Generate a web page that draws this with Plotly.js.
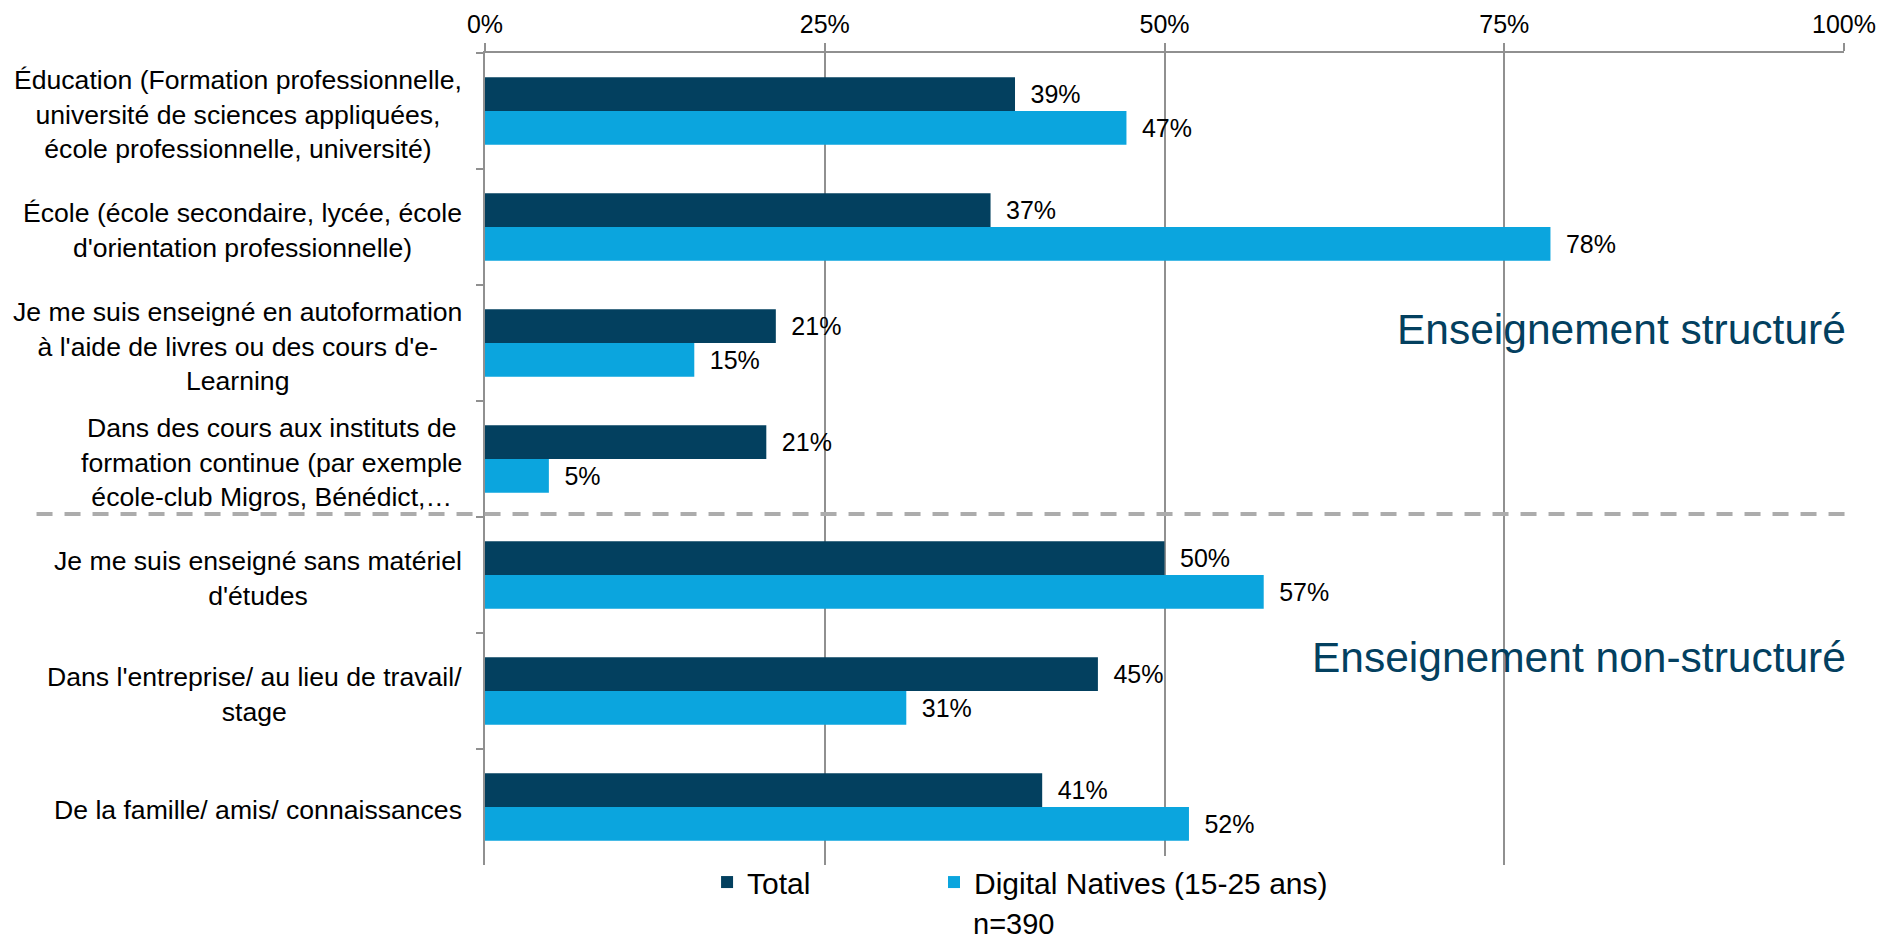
<!DOCTYPE html>
<html>
<head>
<meta charset="utf-8">
<script src="https://cdn.plot.ly/plotly-3.0.1.min.js"></script>
<style>
  html, body { margin: 0; padding: 0; background: #ffffff; }
  #chart { width: 1881px; height: 941px; }
</style>
</head>
<body>
<div id="chart"></div>
<script>
// Categories (top to bottom)
const categories = [
  "Éducation (Formation professionnelle,<br>université de sciences appliquées,<br>école professionnelle, université)",
  "École (école secondaire, lycée, école<br>d'orientation professionnelle)",
  "Je me suis enseigné en autoformation<br>à l'aide de livres ou des cours d'e-<br>Learning",
  "Dans des cours aux instituts de<br>formation continue (par exemple<br>école-club Migros, Bénédict,…",
  "Je me suis enseigné sans matériel<br>d'études",
  "Dans l'entreprise/ au lieu de travail/<br>stage",
  "De la famille/ amis/ connaissances"
];
// Series values (percent)
const totalValues = [39.0, 37.2, 21.4, 20.7, 50.0, 45.1, 41.0];
const digitalNativesValues = [47.2, 78.4, 15.4, 4.7, 57.3, 31.0, 51.8];
const seriesNames = ["Total", "Digital Natives (15-25 ans)"];
const sampleNote = "n=390";
const groupLabels = ["Enseignement structuré", "Enseignement non-structuré"];
const tickValues = [0, 25, 50, 75, 100];
const tickLabels = ["0%", "25%", "50%", "75%", "100%"];

const FONT = "Liberation Sans, Arial, Helvetica, sans-serif";
const C_TOTAL = "#03405f";
const C_DN = "#0ba5de";
const PAD = "\u2002";

const traces = [
  {
    type: "bar", orientation: "h", name: seriesNames[0], legend: "legend",
    y: categories, x: totalValues,
    marker: { color: C_TOTAL },
    text: totalValues.map(v => PAD + Math.round(v) + "%"),
    textposition: "outside", cliponaxis: false,
    textfont: { family: FONT, size: 25, color: "#000" },
    hoverinfo: "x+name"
  },
  {
    type: "bar", orientation: "h", name: seriesNames[1], legend: "legend2",
    y: categories, x: digitalNativesValues,
    marker: { color: C_DN },
    text: digitalNativesValues.map(v => PAD + Math.round(v) + "%"),
    textposition: "outside", cliponaxis: false,
    textfont: { family: FONT, size: 25, color: "#000" },
    hoverinfo: "x+name"
  }
];

// Category labels drawn centred line-by-line, right of block next to the axis
const categoryAnnotations = categories.map(c => ({
  text: c, xref: "paper", yref: "y", x: 0, y: c,
  xanchor: "right", yanchor: "middle", align: "center",
  xshift: -21, yshift: -3, showarrow: false,
  font: { family: FONT, size: 26.6, color: "#000" }
}));

const layout = {
  width: 1881, height: 941,
  margin: { l: 485, r: 37, t: 53, b: 76 },
  paper_bgcolor: "#ffffff", plot_bgcolor: "#ffffff",
  font: { family: FONT, size: 25, color: "#000" },
  barmode: "group",
  bargap: 0.42, bargroupgap: 0,
  showlegend: true,
  legend: {
    orientation: "h", x: 0.1634, xanchor: "left", y: -0.021, yanchor: "middle",
    font: { family: FONT, size: 30, color: "#000" }
  },
  legend2: {
    orientation: "h", x: 0.3304, xanchor: "left", y: -0.021, yanchor: "middle",
    font: { family: FONT, size: 30, color: "#000" }
  },
  xaxis: {
    side: "top", range: [0, 100], tickvals: tickValues, ticktext: tickLabels,
    showgrid: true, gridcolor: "#909090", gridwidth: 1.5,
    showline: true, linecolor: "#909090", linewidth: 1.5,
    ticks: "outside", ticklen: 8, tickcolor: "#909090", tickwidth: 1.5,
    zeroline: false, fixedrange: true,
    tickfont: { family: FONT, size: 25, color: "#000" }
  },
  yaxis: {
    type: "category", autorange: "reversed",
    showline: true, linecolor: "#909090", linewidth: 1.5,
    ticks: "outside", tickson: "boundaries", ticklen: 7, tickcolor: "#909090", tickwidth: 1.5,
    showticklabels: false,
    showgrid: false, zeroline: false, fixedrange: true
  },
  shapes: [
    {
      type: "line", xref: "paper", yref: "y",
      x0: -0.33, x1: 1.003, y0: 3.474, y1: 3.474,
      line: { color: "#acacac", width: 4, dash: "16px,12px" }
    }
  ],
  annotations: categoryAnnotations.concat([
    {
      text: groupLabels[0], xref: "paper", yref: "paper", x: 1.003, y: 0.659,
      xanchor: "right", yanchor: "middle", showarrow: false,
      font: { family: FONT, size: 42.5, color: "#03405f" }
    },
    {
      text: groupLabels[1], xref: "paper", yref: "paper", x: 1.003, y: 0.255,
      xanchor: "right", yanchor: "middle", showarrow: false,
      font: { family: FONT, size: 42.5, color: "#03405f" }
    },
    {
      text: sampleNote, xref: "paper", yref: "paper", x: 0.3584, y: -0.0936,
      xanchor: "left", yanchor: "bottom", showarrow: false, borderpad: 0,
      font: { family: FONT, size: 29, color: "#000" }
    }
  ])
};

Plotly.newPlot("chart", traces, layout, { displayModeBar: false });
</script>
</body>
</html>
